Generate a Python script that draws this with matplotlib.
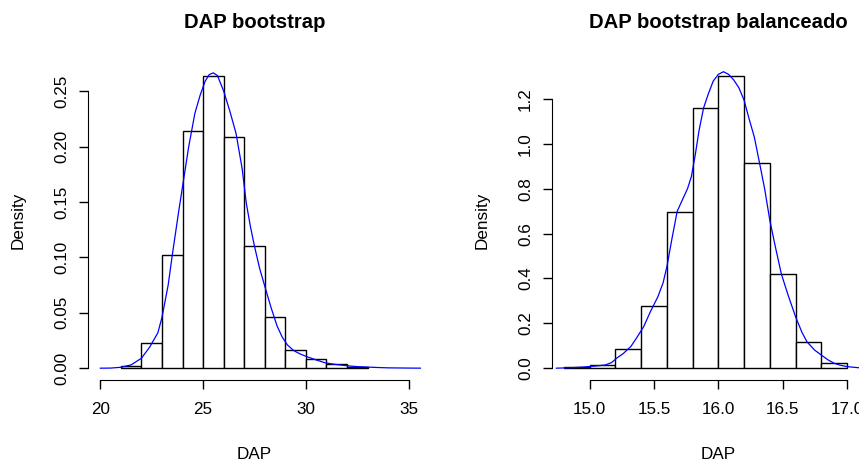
import matplotlib
matplotlib.use("Agg")
import matplotlib.pyplot as plt
import numpy as np

plt.rcParams['font.family'] = ['Liberation Sans', 'DejaVu Sans']

# histogram values (density scale)
dap_breaks = [21, 22, 23, 24, 25, 26, 27, 28, 29, 30, 31, 32, 33]
dap_density = [0.0024, 0.023, 0.102, 0.214, 0.264, 0.209, 0.110, 0.046,
               0.016, 0.008, 0.0035, 0.0015]

bal_breaks = [14.8, 15.0, 15.2, 15.4, 15.6, 15.8, 16.0, 16.2, 16.4, 16.6, 16.8, 17.0]
bal_density = [0.006, 0.012, 0.085, 0.279, 0.698, 1.161, 1.304, 0.916,
               0.420, 0.117, 0.021]

# density curves
dap_curve_x = [20.0, 20.5, 21.0, 21.5, 22.0, 22.4, 22.8, 23.0, 23.3, 23.5, 23.8,
               24.0, 24.3, 24.6, 24.85, 25.1, 25.3, 25.5, 25.7, 26.0, 26.3, 26.6,
               26.9, 27.1, 27.3, 27.5, 27.75, 28.0, 28.3, 28.6, 28.85, 29.1, 29.4,
               29.7, 30.1, 30.5, 30.9, 31.35, 32.0, 32.5, 33.0, 33.5, 34.0, 35.0, 35.7]
dap_curve_y = [0.0, 0.0001, 0.0008, 0.003, 0.009, 0.019, 0.032, 0.046, 0.075, 0.102,
               0.140, 0.164, 0.200, 0.230, 0.246, 0.259, 0.265, 0.2665, 0.264, 0.250,
               0.232, 0.212, 0.180, 0.149, 0.128, 0.110, 0.090, 0.074, 0.055, 0.038,
               0.028, 0.021, 0.016, 0.013, 0.010, 0.0075, 0.005, 0.0036, 0.0022,
               0.0014, 0.001, 0.0006, 0.0003, 0.0001, 0.0]

bal_curve_x = [14.74, 14.85, 14.95, 15.05, 15.12, 15.17, 15.21, 15.26, 15.32, 15.37,
               15.42, 15.47, 15.53, 15.57, 15.60, 15.64, 15.68, 15.72, 15.76, 15.79,
               15.82, 15.85, 15.885, 15.92, 15.96, 16.00, 16.04, 16.08, 16.12, 16.16,
               16.20, 16.24, 16.28, 16.32, 16.36, 16.40, 16.44, 16.49, 16.54, 16.60,
               16.65, 16.69, 16.75, 16.80, 16.85, 16.90, 16.95, 17.00, 17.10, 17.25]
bal_curve_y = [0.0, 0.002, 0.005, 0.010, 0.014, 0.025, 0.045, 0.065, 0.097, 0.14,
               0.186, 0.25, 0.319, 0.38, 0.453, 0.58, 0.70, 0.75, 0.80, 0.854,
               0.95, 1.06, 1.16, 1.22, 1.28, 1.31, 1.322, 1.31, 1.285, 1.25,
               1.195, 1.11, 1.03, 0.916, 0.80, 0.66, 0.55, 0.42, 0.33, 0.23,
               0.16, 0.117, 0.08, 0.059, 0.038, 0.022, 0.013, 0.007, 0.0015, 0.0]

dap_xticks = [20, 25, 30, 35]
dap_yticks = [0.00, 0.05, 0.10, 0.15, 0.20, 0.25]
bal_xticks = [15.0, 15.5, 16.0, 16.5, 17.0]
bal_yticks = [0.0, 0.2, 0.4, 0.6, 0.8, 1.0, 1.2]

W, H = 859, 462
fig = plt.figure(figsize=(W / 100, H / 100), dpi=100)


def px_axes(left, top, right, bottom):
    return fig.add_axes([left / W, (H - bottom) / H, (right - left) / W, (bottom - top) / H])


def r_hist(ax, breaks, dens, cx, cy, xlim, ylim, xticks, yticks, xfmt, yfmt, title):
    widths = np.diff(breaks)
    ax.bar(breaks[:-1], dens, width=widths, align='edge', color='white',
           edgecolor='black', linewidth=1.0)
    ax.plot(cx, cy, color='blue', linewidth=0.9)
    ax.set_xlim(*xlim)
    ax.set_ylim(*ylim)
    for s in ['top', 'right']:
        ax.spines[s].set_visible(False)
    ax.spines['bottom'].set_bounds(xticks[0], xticks[-1])
    ax.spines['left'].set_bounds(yticks[0], yticks[-1])
    ax.spines['bottom'].set_position(('outward', 0))
    ax.set_xticks(xticks)
    ax.set_xticklabels([xfmt.format(v) for v in xticks])
    ax.set_yticks(yticks)
    ax.set_yticklabels([yfmt.format(v) for v in yticks], rotation=90, va='center')
    ax.tick_params(axis='both', direction='out', length=6.5, width=1.0,
                   labelsize=12.3, colors='black')
    ax.tick_params(axis='x', pad=9.5)
    ax.tick_params(axis='y', pad=7)
    ax.set_xlabel('DAP', fontsize=12.3)
    ax.xaxis.label.set_va('center')
    ax.xaxis.set_label_coords(0.5, -0.235)
    ax.set_ylabel('Density', fontsize=12.3)
    ax.yaxis.label.set_va('center')
    ax.yaxis.set_label_coords(-0.21, 0.5)
    ax.text(0.5, 1.12, title, transform=ax.transAxes, ha='center', va='center',
            fontsize=14.6, fontweight='bold')


ax1 = px_axes(88, 61, 421, 380)
r_hist(ax1, dap_breaks, dap_density, dap_curve_x, dap_curve_y,
       (19.4, 35.6), (-0.01066, 0.2772), dap_xticks, dap_yticks,
       '{:.0f}', '{:.2f}', 'DAP bootstrap')

ax2 = px_axes(551.7, 61, 885, 380)
r_hist(ax2, bal_breaks, bal_density, bal_curve_x, bal_curve_y,
       (14.704, 17.296), (-0.0527, 1.3697), bal_xticks, bal_yticks,
       '{:.1f}', '{:.1f}', 'DAP bootstrap balanceado')

fig.savefig('out.png', dpi=100)
